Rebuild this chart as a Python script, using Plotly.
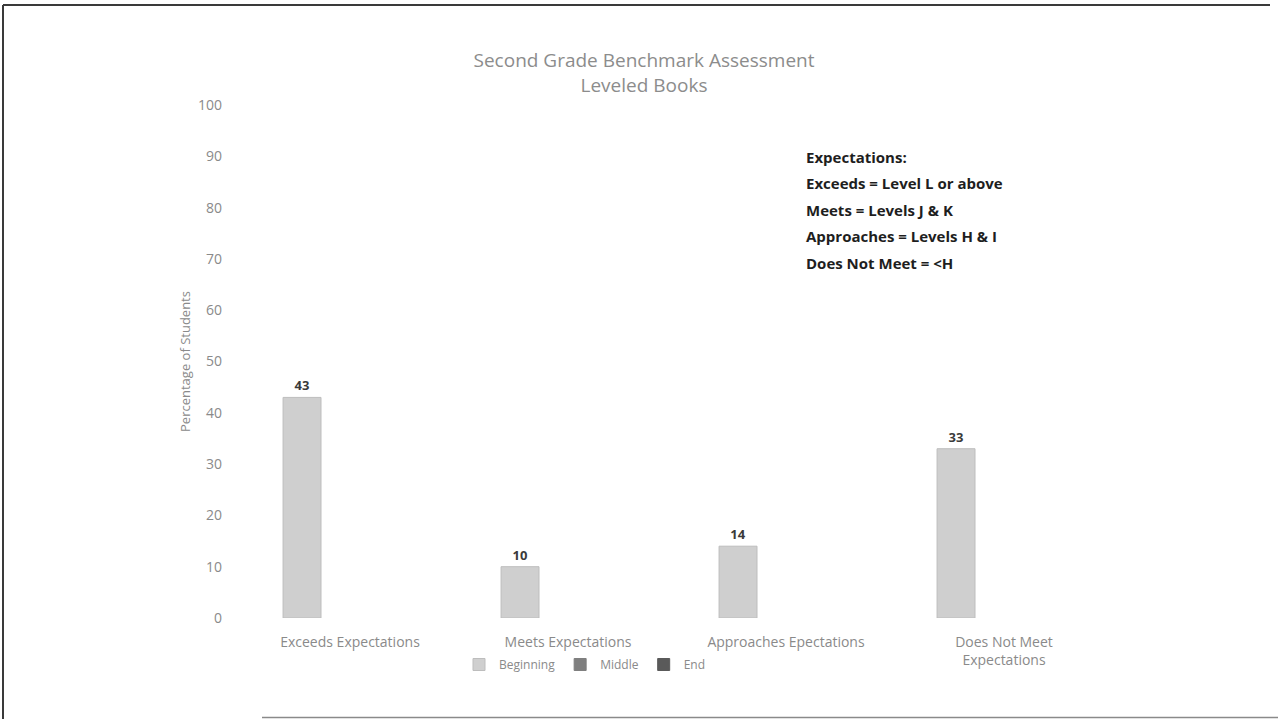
import plotly.graph_objects as go

categories = ["Exceeds Expectations", "Meets Expectations", "Approaches Epectations",
              "Does Not Meet<br>Expectations"]
beginning = [43, 10, 14, 33]
middle = [None, None, None, None]
end = [None, None, None, None]
series_names = ["Beginning", "Middle", "End"]
series_colors = ["#cfcfcf", "#7f7f7f", "#5a5a5a"]
y_ticks = [0, 10, 20, 30, 40, 50, 60, 70, 80, 90, 100]
expect_lines = ["Expectations:", "Exceeds = Level L or above", "Meets = Levels J & K",
                "Approaches = Levels H & I", "Does Not Meet = <H"]

W, H = 1278, 719
L, R, T, B = 241, 1113, 105, 618
FONT = "Open Sans"
GRAY = "#8a8a8a"

def px(x):
    return (x - L) / (R - L)

def py(y):
    return (B - y) / (B - T)

fig = go.Figure()
for name, vals, col in zip(series_names, [beginning, middle, end], series_colors):
    is_first = name == "Beginning"
    fig.add_trace(go.Bar(
        x=categories, y=vals, name=name,
        marker=dict(color=col, line=dict(color="#bdbdbd" if is_first else col, width=1)),
        width=0.174, offset=-0.307,
        text=[str(v) if v is not None else "" for v in vals] if is_first else None,
        textposition="outside",
        textfont=dict(family=FONT, size=13, color="#3a3a3a", weight="bold"),
        cliponaxis=False,
    ))

fig.update_layout(
    width=W, height=H,
    margin=dict(l=L, r=W - R, t=T, b=H - B, autoexpand=False),
    paper_bgcolor="white", plot_bgcolor="white",
    barmode="overlay",
    font=dict(family=FONT, color=GRAY, size=13),
    title=dict(text="Second Grade Benchmark Assessment<br>Leveled Books",
               x=644 / W, xanchor="center", xref="container",
               y=1 - 67 / H, yanchor="top", yref="container",
               font=dict(family=FONT, size=19, color="#8c8c8c")),
    showlegend=True,
    legend=dict(orientation="h", x=px(585), xanchor="center", y=py(650), yanchor="top",
                font=dict(family=FONT, size=12, color=GRAY),
                itemwidth=30, tracegroupgap=0, bgcolor="rgba(0,0,0,0)"),
    xaxis=dict(showline=False, showgrid=False, ticks="", tickfont=dict(size=14, color=GRAY),
               ticklabelstandoff=14),
    yaxis=dict(range=[0, 100], tickvals=y_ticks, showgrid=False, showline=False, zeroline=False,
               ticks="", ticklabelstandoff=18, tickfont=dict(size=14, color=GRAY),
               title=dict(text="Percentage of Students", standoff=4,
                          font=dict(family=FONT, size=13, color=GRAY))),
)

line_y = [157, 183, 210, 236, 263]
for txt, yy in zip(expect_lines, line_y):
    fig.add_annotation(
        text=txt, xref="paper", yref="paper",
        x=px(804), y=py(yy), xanchor="left", yanchor="middle", align="left", showarrow=False,
        font=dict(family=FONT, size=15, color="#1e1e1e", weight="bold"),
    )

frame = "#3a3a3a"
fig.add_shape(type="line", xref="paper", yref="paper", x0=px(3), x1=px(1270), y0=py(5), y1=py(5),
              line=dict(color=frame, width=2))
fig.add_shape(type="line", xref="paper", yref="paper", x0=px(3), x1=px(3), y0=py(5), y1=py(719),
              line=dict(color=frame, width=2))
fig.add_shape(type="line", xref="paper", yref="paper", x0=px(262), x1=px(1278), y0=py(717.5), y1=py(717.5),
              line=dict(color="#8a8a8a", width=1.5))

fig.write_html("out.html", config={"displayModeBar": False},
               post_script="document.body.style.margin='0';")
